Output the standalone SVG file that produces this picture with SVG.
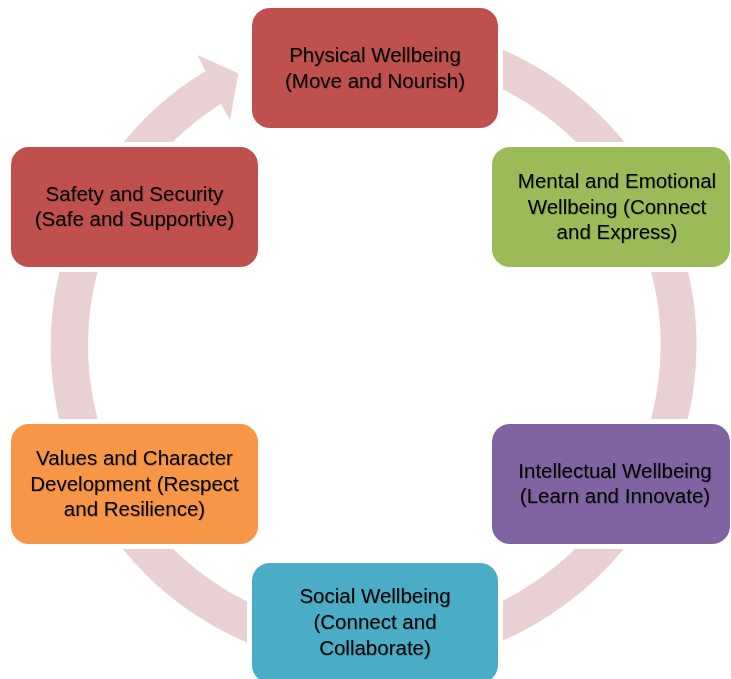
<svg xmlns="http://www.w3.org/2000/svg" width="731" height="679" viewBox="0 0 731 679">
<style>
.node{stroke:#ffffff;stroke-width:10;paint-order:stroke}
.lbl{font-family:"Liberation Sans",Arial,sans-serif;font-size:20.5px;fill:#000000;text-anchor:middle;filter:url(#tshadow)}
.ring{fill:#e9d0d2;stroke:none}
</style>
<defs>
<filter id="tshadow" x="-10%" y="-30%" width="120%" height="160%">
<feDropShadow dx="0.7" dy="0.7" stdDeviation="0.7" flood-color="#000000" flood-opacity="0.25"/>
</filter>
</defs>
<rect width="731" height="679" fill="#ffffff"/>
<g id="connectors">
<path class="ring" d="M291.2,34.0 A322,322 0 0 1 535.5,623.9 A322,322 0 0 1 205.5,70.9 L197.3,55 L238.3,73.3 L230,120 L220.8,103.8 A286,286 0 0 0 517.5,592.7 A286,286 0 0 0 300.5,68.7 Z"/>
</g>
<g id="physical">
<rect class="node" x="252" y="8" width="246" height="120" rx="18" fill="#c0504d"/>
<text class="lbl" x="375" y="62">Physical Wellbeing</text>
<text class="lbl" x="375" y="88">(Move and Nourish)</text>
</g>
<g id="mental">
<rect class="node" x="492" y="147" width="238" height="120" rx="18" fill="#9bbb59"/>
<text class="lbl" x="617" y="188">Mental and Emotional</text>
<text class="lbl" x="617" y="214">Wellbeing (Connect</text>
<text class="lbl" x="617" y="239">and Express)</text>
</g>
<g id="intellectual">
<rect class="node" x="492" y="424" width="238" height="120" rx="18" fill="#8064a2"/>
<text class="lbl" x="615" y="478">Intellectual Wellbeing</text>
<text class="lbl" x="615" y="503">(Learn and Innovate)</text>
</g>
<g id="social">
<rect class="node" x="252" y="563" width="246" height="120" rx="18" fill="#4bacc6"/>
<text class="lbl" x="375" y="603">Social Wellbeing</text>
<text class="lbl" x="375" y="629">(Connect and</text>
<text class="lbl" x="375" y="655">Collaborate)</text>
</g>
<g id="values">
<rect class="node" x="11" y="424" width="247" height="120" rx="18" fill="#f79646"/>
<text class="lbl" x="134.5" y="465">Values and Character</text>
<text class="lbl" x="134.5" y="491">Development (Respect</text>
<text class="lbl" x="134.5" y="516">and Resilience)</text>
</g>
<g id="safety">
<rect class="node" x="11" y="147" width="247" height="120" rx="18" fill="#c0504d"/>
<text class="lbl" x="134.5" y="201">Safety and Security</text>
<text class="lbl" x="134.5" y="226">(Safe and Supportive)</text>
</g>
</svg>
